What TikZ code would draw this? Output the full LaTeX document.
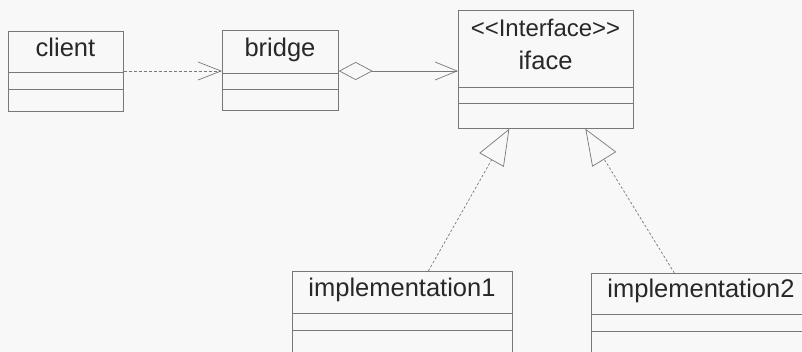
\documentclass[tikz,border=0pt]{standalone}
\usepackage{fontspec}
\setmainfont{Liberation Sans}
\usetikzlibrary{arrows.meta,calc}
\definecolor{umlline}{RGB}{120,120,120}
\definecolor{umltext}{RGB}{40,40,40}
\definecolor{paper}{RGB}{248,248,248}
\tikzset{
  classbox/.style={draw=umlline, line width=0.7pt, rectangle, inner sep=0pt, anchor=north west},
  classname/.style={font=\fontsize{25.5}{30}\selectfont, text=umltext, anchor=base, inner sep=0pt},
  stereotype/.style={font=\fontsize{24}{28}\selectfont, text=umltext, anchor=base, inner sep=0pt},
  compartment/.style={draw=umlline, line width=0.7pt},
  dependency/.style={draw=umlline, line width=0.7pt, dash pattern=on 3pt off 2pt,
    -{Straight Barb[length=23pt,width=18pt,line width=0.7pt]}},
  association/.style={draw=umlline, line width=0.7pt,
    {Diamond[open,fill=paper,length=34pt,width=18pt,line width=0.7pt]}-{Straight Barb[length=22pt,width=18pt,line width=0.7pt]}},
  realization/.style={draw=umlline, line width=0.7pt, dash pattern=on 2.5pt off 2pt,
    -{Triangle[open,fill=paper,length=36pt,width=28pt,line width=0.7pt]}},
}
\begin{document}
\begin{tikzpicture}[x=1pt,y=-1pt]
  \useasboundingbox (0,0) rectangle (802,352);
  \clip (0,0) rectangle (802,352);
  \fill[paper] (0,0) rectangle (802,352);

  % class boxes
  \node[classbox, minimum width=115pt, minimum height=80pt] (client) at (8,31) {};
  \node[classbox, minimum width=116pt, minimum height=80pt] (bridge) at (222,30) {};
  \node[classbox, minimum width=175pt, minimum height=118pt] (iface) at (458,10) {};
  \node[classbox, minimum width=220pt, minimum height=110pt] (impl1) at (292,271) {};
  \node[classbox, minimum width=220pt, minimum height=110pt] (impl2) at (591,273) {};

  % compartment separators
  \draw[compartment] (client.west |- 0,72) -- (client.east |- 0,72);
  \draw[compartment] (client.west |- 0,89) -- (client.east |- 0,89);
  \draw[compartment] (bridge.west |- 0,73) -- (bridge.east |- 0,73);
  \draw[compartment] (bridge.west |- 0,89) -- (bridge.east |- 0,89);
  \draw[compartment] (iface.west |- 0,87) -- (iface.east |- 0,87);
  \draw[compartment] (iface.west |- 0,103) -- (iface.east |- 0,103);
  \draw[compartment] (impl1.west |- 0,313) -- (impl1.east |- 0,313);
  \draw[compartment] (impl1.west |- 0,330) -- (impl1.east |- 0,330);
  \draw[compartment] (impl2.west |- 0,314) -- (impl2.east |- 0,314);
  \draw[compartment] (impl2.west |- 0,331) -- (impl2.east |- 0,331);

  % class names (kerns keep the angle brackets from merging into guillemets)
  \node[classname] (clientname) at (65.5,57) {client};
  \node[classname] (bridgename) at (280,57) {bridge};
  \node[stereotype] (ifacestereo) at (545.5,37) {<\kern0pt<Interface>\kern0pt>};
  \node[classname] (ifacename) at (545.5,70) {iface};
  \node[classname] (impl1name) at (402,296) {implementation1};
  \node[classname] (impl2name) at (701,298) {implementation2};

  % relations
  \draw[dependency] (client.east |- 0,71) -- (bridge.west |- 0,71);
  \draw[association] (bridge.east |- 0,71) -- (iface.west |- 0,71);
  \draw[realization] ($(impl1.north)+(26,0)$) -- ($(iface.south)+(-36.5,0)$);
  \draw[realization] ($(impl2.north)+(-27,0)$) -- ($(iface.south)+(39.5,0)$);
\end{tikzpicture}
\end{document}
